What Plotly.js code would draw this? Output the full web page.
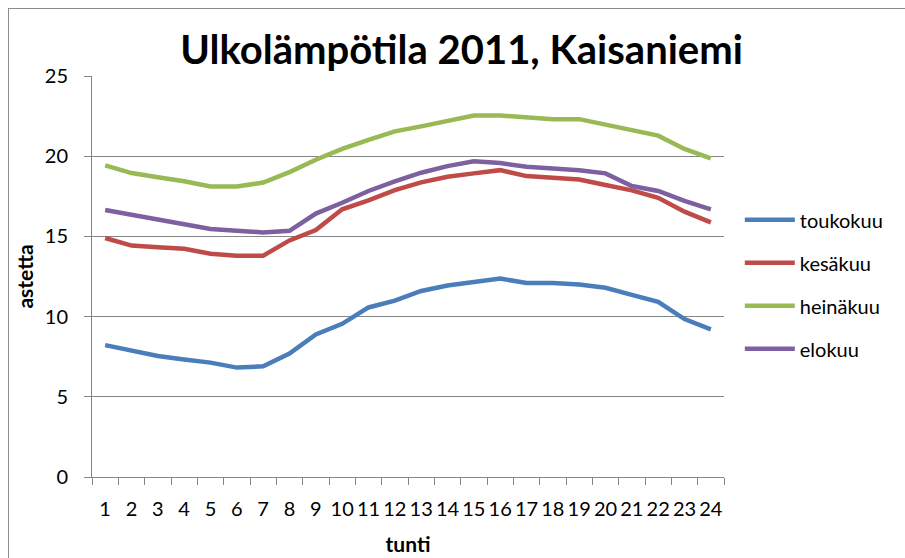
<!DOCTYPE html>
<html>
<head>
<meta charset="utf-8">
<script src="https://cdn.plot.ly/plotly-3.0.1.min.js"></script>
<style>
  html, body { margin: 0; padding: 0; background: #ffffff; }
  #frame { position: absolute; left: 8px; top: 8px; width: 1000px; height: 700px; border: 1px solid #8c8c8c; }
  #chart { position: absolute; left: 0; top: 0; width: 905px; height: 558px; }
</style>
</head>
<body>
<div id="frame"></div>
<div id="chart"></div>
<script>
const hours = ["1","2","3","4","5","6","7","8","9","10","11","12","13","14","15","16","17","18","19","20","21","22","23","24"];
const toukokuu = [8.22, 7.87, 7.54, 7.32, 7.13, 6.82, 6.90, 7.70, 8.89, 9.55, 10.57, 11.0, 11.6, 11.94, 12.17, 12.37, 12.1, 12.1, 12.0, 11.8, 11.35, 10.92, 9.85, 9.2];
const kesakuu  = [14.9, 14.43, 14.33, 14.23, 13.92, 13.8, 13.8, 14.75, 15.4, 16.69, 17.25, 17.88, 18.37, 18.72, 18.93, 19.13, 18.76, 18.66, 18.55, 18.2, 17.87, 17.41, 16.54, 15.87];
const heinakuu = [19.43, 18.95, 18.69, 18.44, 18.11, 18.11, 18.36, 19.01, 19.78, 20.46, 21.02, 21.55, 21.86, 22.23, 22.54, 22.54, 22.42, 22.31, 22.31, 21.97, 21.66, 21.28, 20.45, 19.86];
const elokuu   = [16.65, 16.34, 16.1, 15.77, 15.46, 15.35, 15.25, 15.35, 16.42, 17.1, 17.83, 18.43, 18.97, 19.38, 19.69, 19.57, 19.34, 19.24, 19.13, 18.93, 18.14, 17.83, 17.21, 16.69];
const seriesNames = ["toukokuu", "kesäkuu", "heinäkuu", "elokuu"];
const yTicks = [0, 5, 10, 15, 20, 25];

const colors = ["#4a7ebb", "#be4b48", "#98b954", "#7d60a0"];
const seriesData = [toukokuu, kesakuu, heinakuu, elokuu];
const FONT = "Lato, 'Open Sans', sans-serif";

const traces = seriesData.map((vals, i) => ({
  type: "scatter",
  mode: "lines",
  x: hours,
  y: vals,
  name: seriesNames[i],
  legendgroup: "g" + i,
  line: { color: colors[i], width: 4.5 }
}));

const layout = {
  width: 905,
  height: 558,
  paper_bgcolor: "rgba(0,0,0,0)",
  plot_bgcolor: "rgba(0,0,0,0)",
  margin: { l: 92, r: 181, t: 76, b: 81 },
  font: { family: FONT, size: 20, color: "#000000" },
  title: {
    text: "<b>Ulkolämpötila 2011, Kaisaniemi</b>",
    font: { family: FONT, size: 40, color: "#000000" },
    x: 0.51, xanchor: "center",
    y: 0.91, yanchor: "middle"
  },
  showlegend: true,
  legend: {
    x: 1.025, xanchor: "left",
    y: 0.69, yanchor: "top",
    font: { family: FONT, size: 20, color: "#000000" },
    traceorder: "grouped",
    tracegroupgap: 14,
    itemwidth: 50,
    bgcolor: "rgba(0,0,0,0)"
  },
  xaxis: {
    type: "category",
    range: [-0.5, 23.5],
    showgrid: false,
    showline: true,
    linecolor: "#868686",
    linewidth: 1,
    ticks: "outside",
    tickson: "boundaries",
    ticklen: 7,
    tickcolor: "#868686",
    tickangle: 0,
    ticklabelstandoff: 14,
    tickfont: { family: FONT, size: 20, color: "#000000" },
    title: { text: "<b>tunti</b>", font: { family: FONT, size: 21, color: "#000000" }, standoff: 18 },
    zeroline: false
  },
  yaxis: {
    range: [0, 25],
    tickvals: yTicks,
    ticktext: yTicks.map(String),
    showgrid: true,
    gridcolor: "#868686",
    gridwidth: 1,
    showline: true,
    linecolor: "#868686",
    ticks: "outside",
    ticklen: 7,
    tickcolor: "#868686",
    ticklabelstandoff: 12,
    tickfont: { family: FONT, size: 20, color: "#000000" },
    title: { text: "<b>astetta</b>", font: { family: FONT, size: 21, color: "#000000" }, standoff: 5 },
    zeroline: false
  }
};

Plotly.newPlot("chart", traces, layout, { displayModeBar: false, staticPlot: true });
</script>
</body>
</html>
